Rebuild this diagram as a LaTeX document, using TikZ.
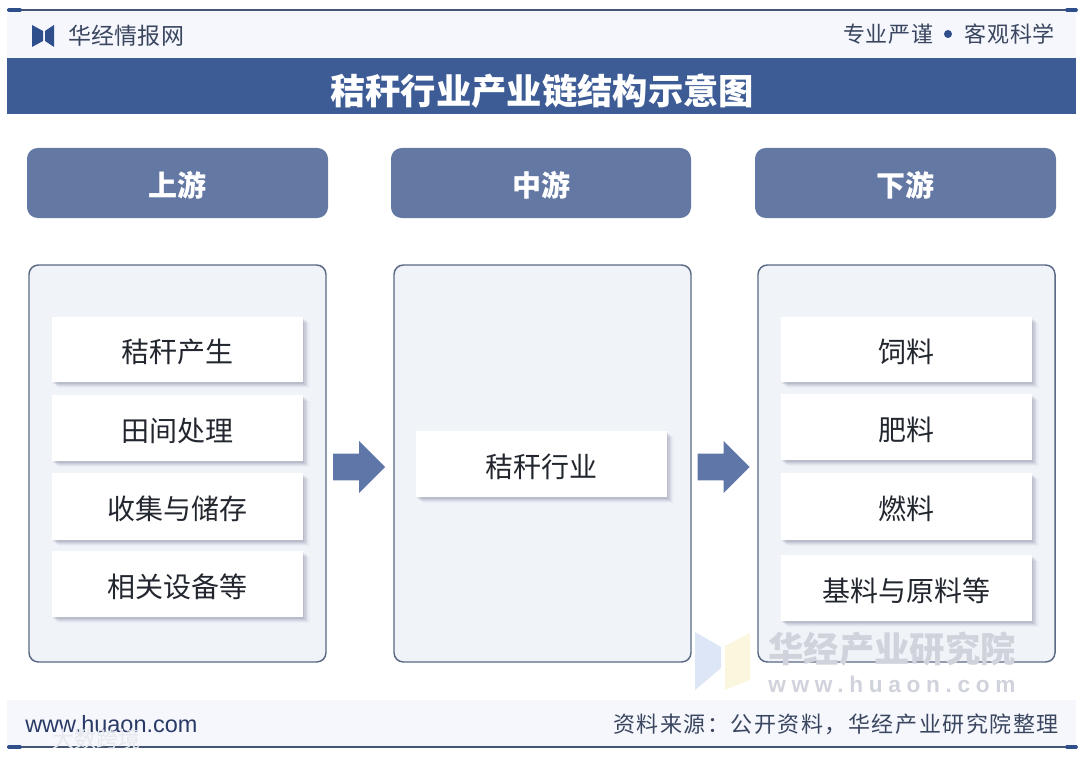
\documentclass[tikz,border=0pt]{standalone}
\usepackage{fontspec}
\setmainfont{Noto Sans CJK SC}
\newfontfamily\latinsans{Liberation Sans}
\usetikzlibrary{shadows,shapes.arrows}
\definecolor{bandblue}{HTML}{3D5C96}
\definecolor{headblue}{HTML}{6478A4}
\definecolor{arrowblue}{HTML}{5F76A8}
\definecolor{panelfill}{HTML}{F0F3F8}
\definecolor{panelline}{HTML}{5C6A86}
\definecolor{ruleline}{HTML}{445674}
\definecolor{capblue}{HTML}{2F4F8C}
\definecolor{inktext}{HTML}{3A4660}
\definecolor{sitetext}{HTML}{2A3A66}
\definecolor{boxtext}{HTML}{22262E}
\definecolor{softbg}{HTML}{F5F7FC}
\definecolor{wmgray}{HTML}{D0D3DB}
\definecolor{wmblue}{HTML}{DCE6F6}
\definecolor{wmyellow}{HTML}{FBF6DE}
\definecolor{wmlight}{HTML}{E6E8EE}
\definecolor{shadowtone}{HTML}{46506E}
\tikzset{
  x=0.75pt,y=-0.75pt,
  sized/.style 2 args={minimum width=#1*0.75pt,minimum height=#2*0.75pt,inner sep=0pt,outer sep=0pt},
  lowtext/.style={text height=20pt,text depth=0pt},
  headbox/.style={rectangle,rounded corners=8pt,fill=headblue,text=white,lowtext,font=\fontsize{21.75}{26}\selectfont\bfseries},
  panelbox/.style={rectangle,rounded corners=7pt,fill=panelfill,draw=panelline,line width=1.1pt},
  itembox/.style={rectangle,fill=white,text=boxtext,lowtext,font=\fontsize{21}{25}\selectfont,
    drop shadow={shadow xshift=5pt,shadow yshift=-4.5pt,fill=shadowtone,opacity=0.03},
    drop shadow={shadow xshift=3.8pt,shadow yshift=-3.6pt,fill=shadowtone,opacity=0.05},
    drop shadow={shadow xshift=2.8pt,shadow yshift=-2.8pt,fill=shadowtone,opacity=0.07},
    drop shadow={shadow xshift=1.9pt,shadow yshift=-2pt,fill=shadowtone,opacity=0.09},
    drop shadow={shadow xshift=1pt,shadow yshift=-1.2pt,fill=shadowtone,opacity=0.12}},
  flowarrow/.style={single arrow,fill=arrowblue,single arrow head extend=9.5pt,single arrow tip angle=90,
    minimum height=39pt,inner sep=0pt,outer sep=0pt},
  rulestyle/.style={draw=ruleline,line width=1.2pt},
  capstyle/.style={draw=capblue,line width=2.8pt,line cap=round},
}
\begin{document}
\begin{tikzpicture}
\useasboundingbox (0,0) rectangle (1080,756);
\fill[white] (0,0) rectangle (1080,756);
% header strip and footer strip
\fill[softbg] (7,11) rectangle (1076,58);
\fill[softbg] (7,700) rectangle (1076,746);
% rules
\coordinate (tl) at (7,10); \coordinate (tr) at (1076,10);
\coordinate (bl) at (7,747); \coordinate (br) at (1076,747);
\draw[rulestyle] (tl) -- (tr);
\draw[rulestyle] (bl) -- (br);
\draw[capstyle] (9,10) -- (20,10);
\draw[capstyle] (1067,10) -- (1076,10);
\draw[capstyle] (9,747) -- (20,747);
\draw[capstyle] (1067,747) -- (1076,747);
% logo
\fill[capblue] (32,25) -- (43,31) -- (43,41) -- (32,47) -- cycle;
\fill[capblue] (54,25) -- (45,31) -- (45,41) -- (54,47) -- cycle;
\node[anchor=west,inner sep=0pt,text=inktext,font=\fontsize{17.25}{20}\selectfont\addfontfeatures{LetterSpace=1}] (brand) at (68,36) {华经情报网};
\node[anchor=west,inner sep=0pt,text=inktext,font=\fontsize{16.5}{20}\selectfont\addfontfeatures{LetterSpace=3}] (motto1) at (843,34) {专业严谨};
\node[circle,fill=capblue,minimum size=6pt,inner sep=0pt] (mottodot) at (948,34) {};
\node[anchor=east,inner sep=0pt,text=inktext,font=\fontsize{16.5}{20}\selectfont\addfontfeatures{LetterSpace=3}] (motto2) at (1055,34) {客观科学};
% title band
\node[sized={1069}{56},fill=bandblue] (title) at (541.5,86) {};
\node[inner sep=0pt,text=white,font=\fontsize{26.5}{31}\selectfont\bfseries] (titletext) at (542,91) {秸秆行业产业链结构示意图};
% column headers
\node[headbox,sized={301}{70}] (h1) at (177.5,183) {上游};
\node[headbox,sized={300}{70}] (h2) at (541,183) {中游};
\node[headbox,sized={301}{70}] (h3) at (905.5,183) {下游};
% panels
\node[panelbox,sized={297}{397}] (p1) at (177.5,463.5) {};
\node[panelbox,sized={297}{397}] (p2) at (542.5,463.5) {};
\node[panelbox,sized={297}{397}] (p3) at (906.5,463.5) {};
% items
\node[itembox,sized={251}{65}] (a1) at (177.5,349.5) {秸秆产生};
\node[itembox,sized={251}{66}] (a2) at (177.5,428) {田间处理};
\node[itembox,sized={251}{67}] (a3) at (177.5,506.5) {收集与储存};
\node[itembox,sized={251}{66}] (a4) at (177.5,584) {相关设备等};
\node[itembox,sized={251}{66}] (b1) at (541.5,464) {秸秆行业};
\node[itembox,sized={251}{65}] (c1) at (906.5,349.5) {饲料};
\node[itembox,sized={251}{66}] (c2) at (906.5,427) {肥料};
\node[itembox,sized={251}{67}] (c3) at (906.5,506.5) {燃料};
\node[itembox,sized={251}{66}] (c4) at (906.5,588) {基料与原料等};
% flow arrows
\node[flowarrow] (f1) at (352.5,467) {\rule{0pt}{19.5pt}};
\node[flowarrow] (f2) at (717,467) {\rule{0pt}{19.5pt}};
% watermarks
\fill[wmblue] (695,632) -- (721,647) -- (721,668) -- (695,690) -- cycle;
\fill[wmyellow] (725,646) -- (750,633) -- (750,680) -- (725,690) -- cycle;
\node[inner sep=0pt,text=wmgray,font=\fontsize{26.5}{30}\selectfont\bfseries] (wm1) at (892,649) {华经产业研究院};
\node[inner sep=0pt,text=wmgray,font=\latinsans\fontsize{17}{20}\selectfont\bfseries\addfontfeatures{LetterSpace=25}] (wm2) at (892,684) {www.huaon.com};
% footer
\node[anchor=west,inner sep=0pt,text=sitetext,font=\latinsans\fontsize{17.6}{20}\selectfont] (site) at (25,724) {www.huaon.com};
\node[anchor=east,inner sep=0pt,text=inktext,font=\fontsize{16.5}{20}\selectfont\addfontfeatures{LetterSpace=7}] (source) at (1059,724) {资料来源：公开资料，华经产业研究院整理};
\node[anchor=west,inner sep=0pt,text=wmlight,font=\fontsize{16.5}{18}\selectfont] (wm3) at (52,739) {大数跨境};
\end{tikzpicture}
\end{document}
